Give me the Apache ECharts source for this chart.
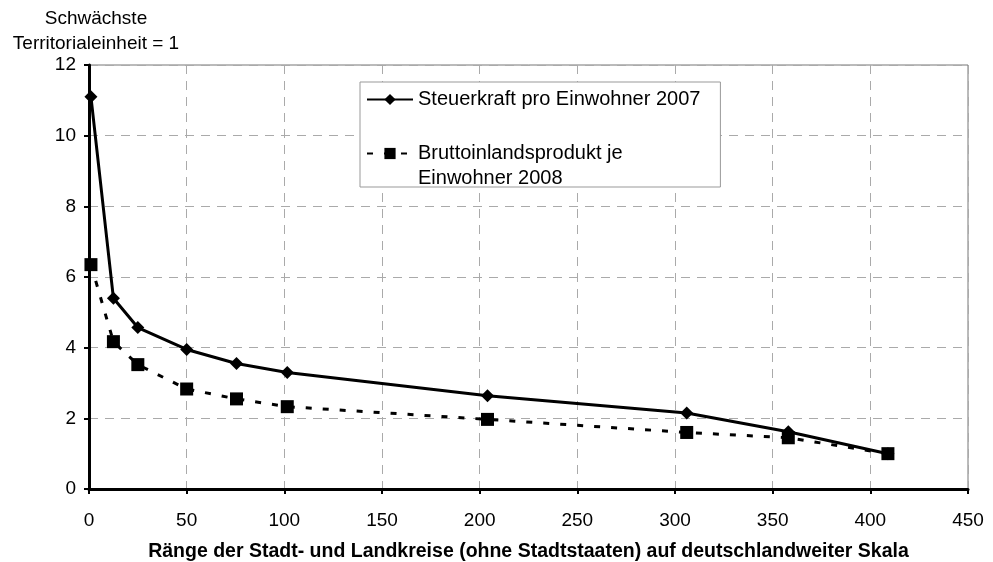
<!DOCTYPE html>
<html>
<head>
<meta charset="utf-8">
<script src="https://cdn.jsdelivr.net/npm/echarts@6/dist/echarts.min.js"></script>
<style>
  html, body { margin: 0; padding: 0; background: #fff; }
  #chart { width: 993px; height: 562px; }
</style>
</head>
<body>
<div id="chart"></div>
<script>
// Rang auf der deutschlandweiten Skala
const ranks = [1, 12.5, 25, 50, 75.5, 101.5, 204, 306, 358, 409]
// Steuerkraft pro Einwohner 2007 (schwächste Einheit = 1)
const steuerkraft = [11.1, 5.4, 4.57, 3.95, 3.55, 3.3, 2.64, 2.15, 1.62, 1.0]
// BIP je Einwohner 2008
const bip = [6.35, 4.17, 3.52, 2.83, 2.55, 2.33, 1.97, 1.6, 1.45, 1.0]

const nameSK = 'Steuerkraft pro Einwohner 2007'
const nameBIP = 'Bruttoinlandsprodukt je\nEinwohner 2008'

const font = 'Liberation Sans, Arial, sans-serif'
const pairs = vals => ranks.map((r, i) => [r, vals[i]])

const chart = echarts.init(document.getElementById('chart'))
chart.setOption({
  animation: false,
  textStyle: { fontFamily: font, color: '#000' },
  grid: {
    left: 89, right: 25, top: 65, bottom: 73,
    outerBoundsMode: 'none',
    show: true, borderColor: '#777', borderWidth: 1
  },
  title: {
    text: 'Schwächste\nTerritorialeinheit = 1',
    left: 91, top: 1, textAlign: 'center',
    textStyle: { fontSize: 19, fontWeight: 'normal', lineHeight: 25, color: '#000' }
  },
  legend: {
    left: 360, top: 82,
    orient: 'vertical',
    backgroundColor: '#fff',
    borderColor: '#999', borderWidth: 1,
    padding: [5, 20, -4, 6],
    itemGap: 4,
    itemWidth: 46, itemHeight: 14,
    textStyle: { fontSize: 20, color: '#000', lineHeight: 25, fontFamily: font },
    // Leerzeile oben, damit das Symbol auf Höhe der ersten Textzeile steht
    formatter: name => (name === nameBIP ? ' \n' + name : name),
    data: [{ name: nameSK }, { name: nameBIP }]
  },
  xAxis: {
    type: 'value', min: 0, max: 450, interval: 50,
    name: 'Ränge der Stadt- und Landkreise (ohne Stadtstaaten) auf deutschlandweiter Skala',
    nameLocation: 'middle', nameGap: 53,
    nameTextStyle: { fontSize: 19.5, fontWeight: 'bold', color: '#000' },
    axisLine: { lineStyle: { color: '#000', width: 3 } },
    axisTick: { lineStyle: { color: '#000', width: 2 }, length: 5 },
    axisLabel: { fontSize: 19, color: '#000', margin: 22 },
    splitLine: { lineStyle: { color: '#aaa', type: [9, 7], width: 1 } }
  },
  yAxis: {
    type: 'value', min: 0, max: 12, interval: 2,
    axisLine: { show: true, lineStyle: { color: '#000', width: 3 } },
    axisTick: { show: true, lineStyle: { color: '#000', width: 2 }, length: 5 },
    axisLabel: { fontSize: 19, color: '#000', margin: 13 },
    splitLine: { lineStyle: { color: '#aaa', type: [9, 7], width: 1 } }
  },
  series: [
    {
      name: nameSK,
      type: 'line',
      data: pairs(steuerkraft),
      symbol: 'diamond', symbolSize: 13,
      lineStyle: { color: '#000', width: 3 },
      itemStyle: { color: '#000' },
      z: 3
    },
    {
      name: nameBIP,
      type: 'line',
      data: pairs(bip),
      symbol: 'rect', symbolSize: 13,
      lineStyle: { color: '#000', width: 3, type: [6, 11] },
      itemStyle: { color: '#000' },
      z: 4
    }
  ]
})
</script>
</body>
</html>
